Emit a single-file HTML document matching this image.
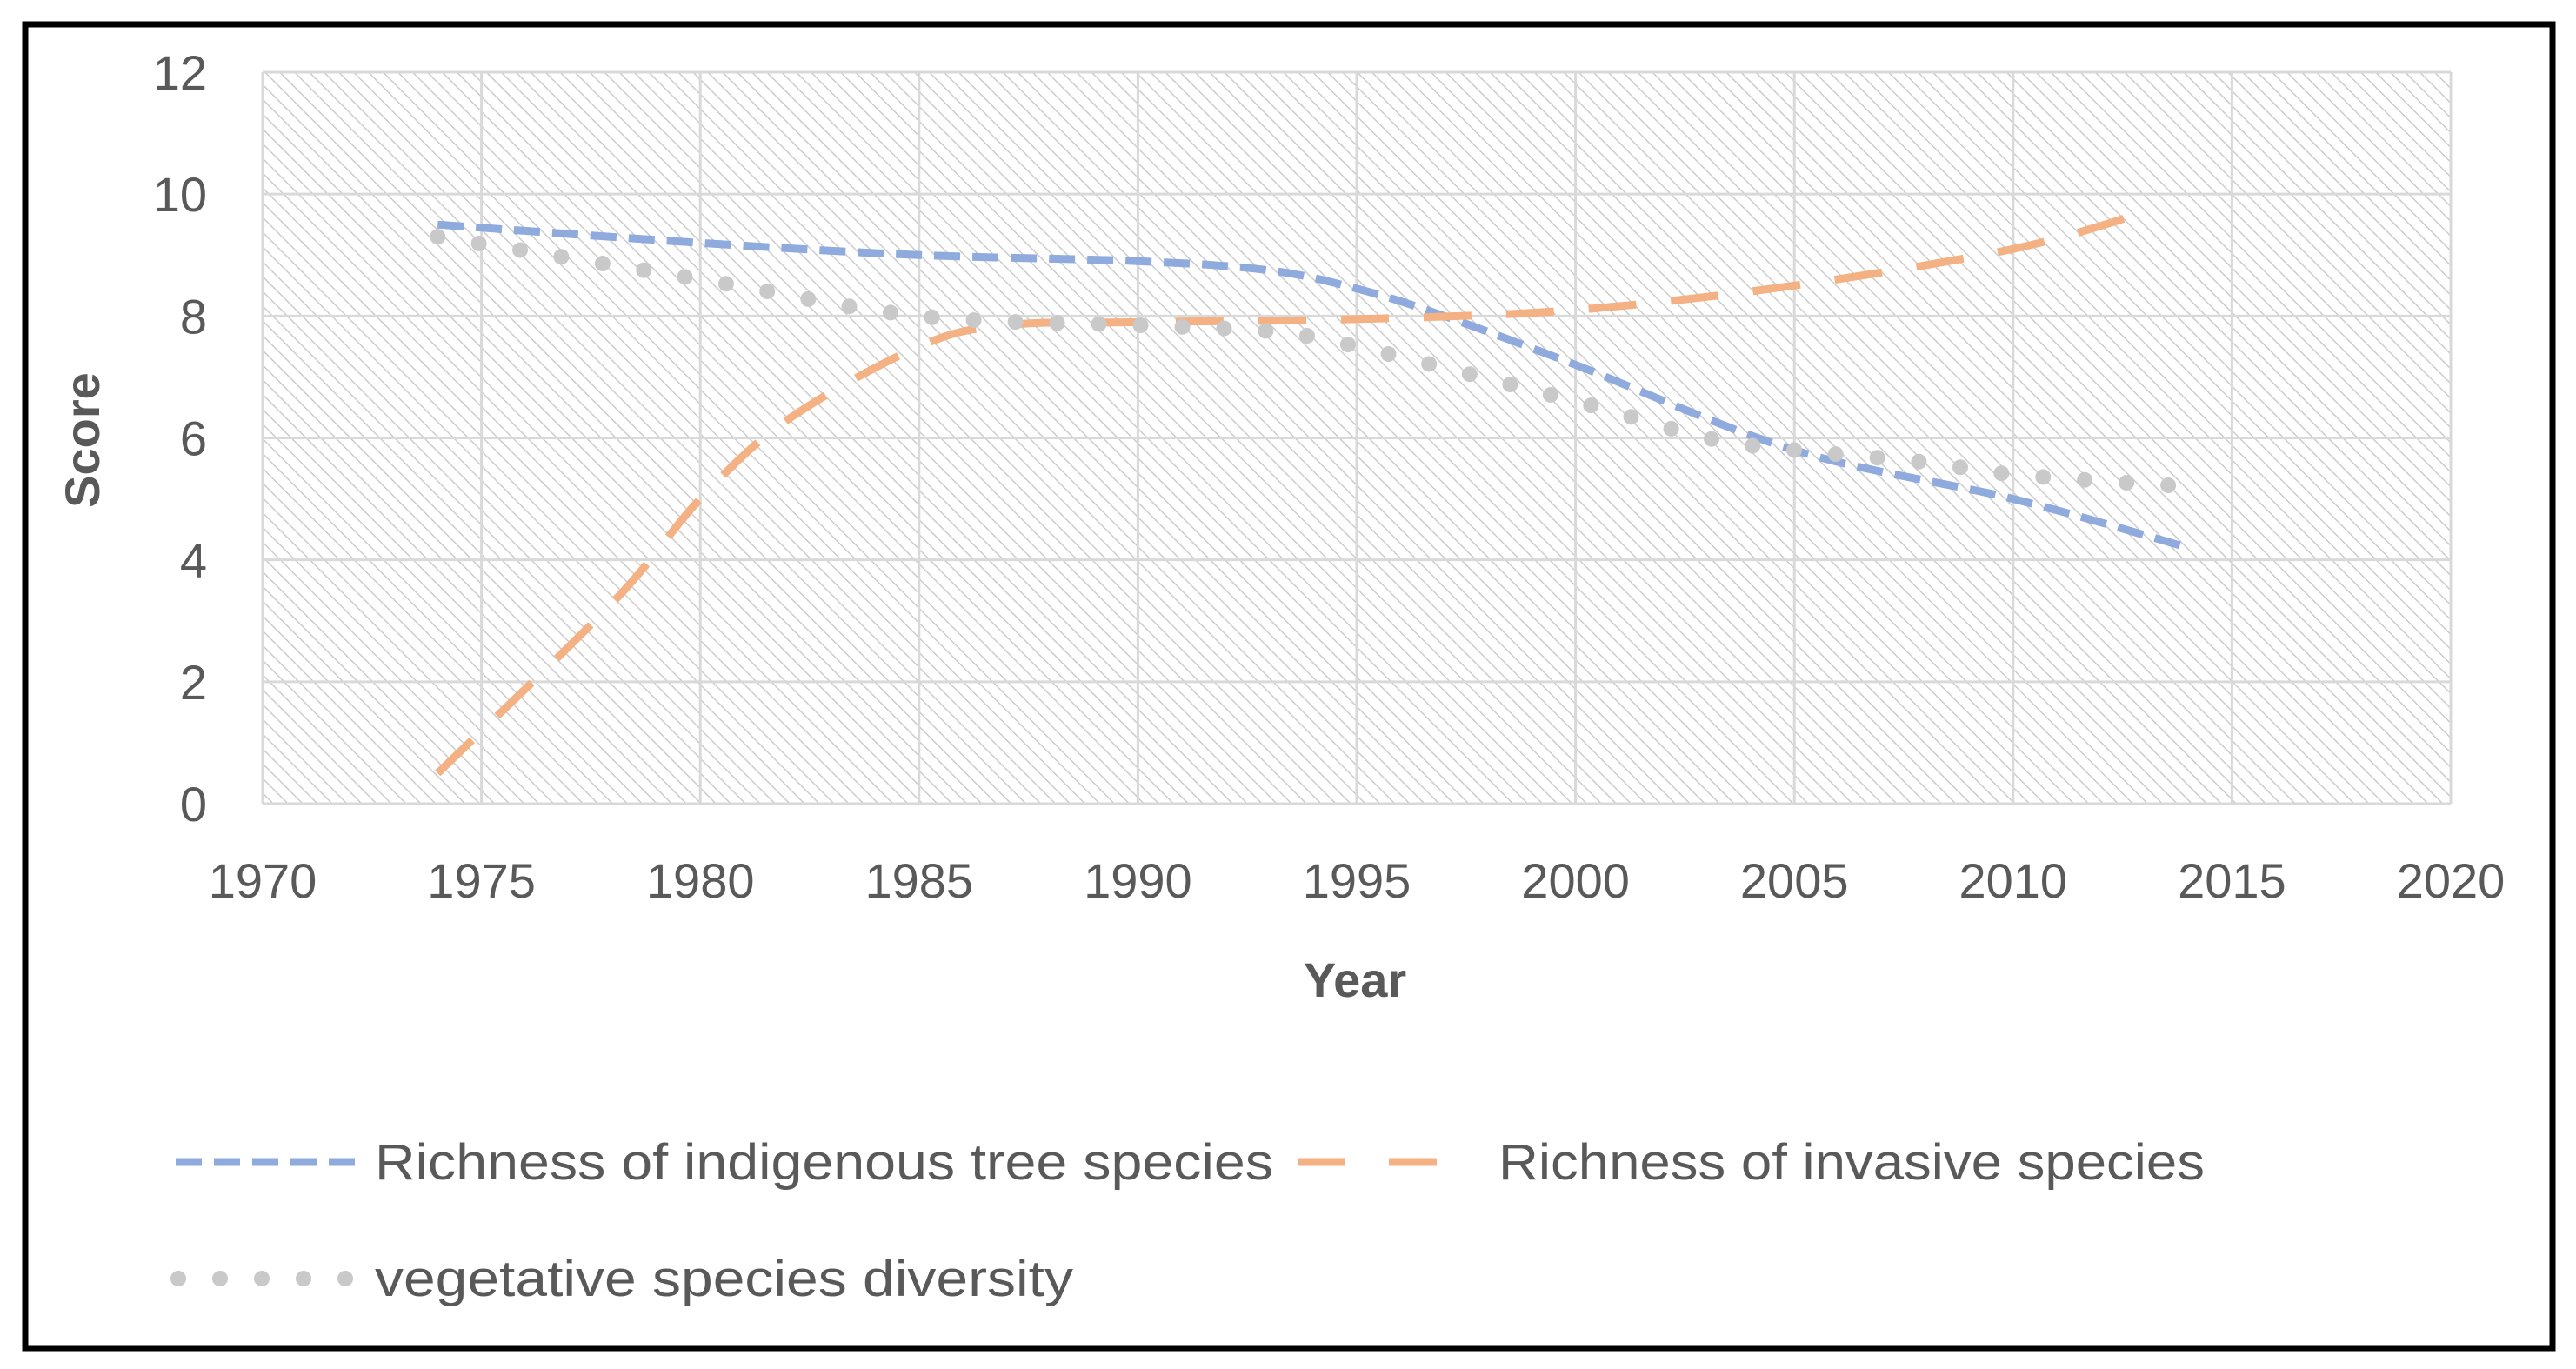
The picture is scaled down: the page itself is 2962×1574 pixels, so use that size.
<!DOCTYPE html>
<html><head><meta charset="utf-8"><style>
html,body{margin:0;padding:0;background:#fff;}
svg{display:block;}
text{font-family:"Liberation Sans",sans-serif;fill:#595959;}
</style></head><body>
<svg id="chart" width="2962" height="1574" xmlns="http://www.w3.org/2000/svg">
<defs>
<pattern id="hatch" width="12" height="12" patternUnits="userSpaceOnUse" patternTransform="rotate(-45)">
<rect width="12" height="12" fill="#fff"/>
<line x1="0" y1="0" x2="0" y2="12" stroke="#cccccc" stroke-width="3"/>
</pattern>
</defs>
<rect x="29" y="28" width="2906" height="1522" fill="#fff" stroke="#000" stroke-width="7"/>
<g id="plot"></g>
</svg>
<script>
const xTicks = [1970,1975,1980,1985,1990,1995,2000,2005,2010,2015,2020];
const yTicks = [0,2,4,6,8,10,12];
const indigYears = [1974,1980,1985,1990,1993,1995,1997,2000,2005,2010,2014];
const indigVals  = [9.5,9.2,9.0,8.9,8.75,8.45,8.0,7.2,5.8,5.0,4.2];
const invYears = [1974,1978,1980,1982,1985,1987,1990,1995,2000,2005,2010,2013];
const invVals  = [0.5,3.3,5.0,6.3,7.5,7.85,7.9,7.95,8.1,8.5,9.1,9.7];
const vegYears = [1974,1980,1985,1990,1993,1995,2000,2003,2005,2008,2010,2014];
const vegVals  = [9.3,8.6,8.0,7.85,7.75,7.5,6.6,6.0,5.8,5.6,5.4,5.2];

const L=302,R=2818,T=83,B=924;
const xs=v=>L+(v-1970)/50*(R-L);
const ys=v=>B-v/12*(B-T);
const NS="http://www.w3.org/2000/svg";
const g=document.getElementById('plot');
function mk(tag,attrs,parent){const e=document.createElementNS(NS,tag);for(const k in attrs)e.setAttribute(k,attrs[k]);(parent||g).appendChild(e);return e;}

const bg=mk('rect',{x:L,y:T,width:R-L,height:B-T,fill:'url(#hatch)'});



xTicks.forEach(t=>{
 const l=mk('line',{x1:xs(t),x2:xs(t),y1:T,y2:B,stroke:'#d9d9d9','stroke-width':3});
 
 
 const tx=mk('text',{x:xs(t),y:1032,'text-anchor':'middle','font-size':56});
 tx.textContent=t;
 
 
});
yTicks.forEach(t=>{
 const l=mk('line',{x1:L,x2:R,y1:ys(t),y2:ys(t),stroke:'#d9d9d9','stroke-width':3});
 
 
 const tx=mk('text',{x:238,y:ys(t)+20,'text-anchor':'end','font-size':56});
 tx.textContent=t;
 
 
});

function smooth(xv,yv){
 const p=xv.map((x,i)=>[xs(x),ys(yv[i])]);
 let d='M'+p[0][0]+','+p[0][1];
 for(let i=0;i<p.length-1;i++){
  const p0=p[i-1]||p[i],p1=p[i],p2=p[i+1],p3=p[i+2]||p2;
  const c1=[p1[0]+(p2[0]-p0[0])/6,p1[1]+(p2[1]-p0[1])/6];
  const c2=[p2[0]-(p3[0]-p1[0])/6,p2[1]-(p3[1]-p1[1])/6];
  d+=' C'+c1+' '+c2+' '+p2;
 }
 return d;
}
const s1=mk('path',{d:smooth(indigYears,indigVals),fill:'none',stroke:'#8faadc','stroke-width':9,'stroke-dasharray':'30 14'});


const s2=mk('path',{d:smooth(invYears,invVals),fill:'none',stroke:'#f4b183','stroke-width':9,'stroke-dasharray':'55 40'});


const s3=mk('path',{d:smooth(vegYears,vegVals),fill:'none',stroke:'#c9c9c9','stroke-width':18,'stroke-linecap':'round','stroke-dasharray':'0 48'});



const yt=mk('text',{x:1558,y:1146,'text-anchor':'middle','font-size':56,'font-weight':'bold'});
yt.textContent='Year';


const st=mk('text',{x:0,y:0,'text-anchor':'middle','font-size':56,'font-weight':'bold',transform:'translate(114,506) rotate(-90)'});
st.textContent='Score';



function legend(name,x1,x2,y,attrs,label,tx,tw){
 const l=mk('line',Object.assign({x1:x1,x2:x2,y1:y,y2:y,fill:'none'},attrs));
 
 
 const t=mk('text',{x:tx,y:y+20,'font-size':58,textLength:tw,lengthAdjust:'spacingAndGlyphs'});
 t.textContent=label;
 
 
}
legend('legend-indigenous',202,410,1336,{stroke:'#8faadc','stroke-width':9,'stroke-dasharray':'30 14'},'Richness of indigenous tree species',431,1033);
legend('legend-invasive',1492,1653,1336,{stroke:'#f4b183','stroke-width':9,'stroke-dasharray':'55 50'},'Richness of invasive species',1723,812);
legend('legend-vegetative',205,405,1470,{stroke:'#c9c9c9','stroke-width':18,'stroke-linecap':'round','stroke-dasharray':'0 48'},'vegetative species diversity',431,803);
</script>
</body></html>
